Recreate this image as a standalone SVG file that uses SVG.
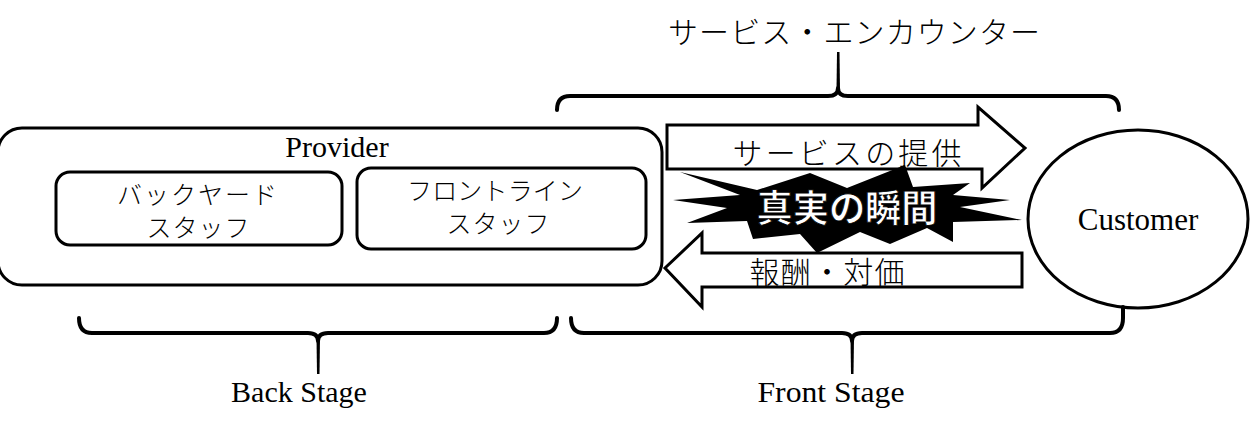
<svg xmlns="http://www.w3.org/2000/svg" width="1254" height="424" viewBox="0 0 1254 424">
<style>
.box{fill:#fff;stroke:#000;stroke-width:3}
.br{fill:none;stroke:#000;stroke-width:4;stroke-linejoin:round;stroke-linecap:round}
.jp{font-family:"Noto Sans CJK JP","Noto Sans CJK SC",sans-serif;font-weight:300;fill:#000}
.en{font-family:"Liberation Serif",serif;fill:#000}
</style>
<rect width="1254" height="424" fill="#fff"/>
<g id="brace-top">
<path class="br" d="M557,110 Q557,96 570,96 L828,96 Q838,96 838,88 Q838,96 848,96 L1106,96 Q1119,96 1119,110"/>
<path d="M836.5,90 L837,52 L839.5,52 L840,90 Z" fill="#000"/>
<text class="jp" x="854" y="43" font-size="30" text-anchor="middle" textLength="372" lengthAdjust="spacing">サービス・エンカウンター</text>
</g>
<g id="provider">
<rect class="box" x="-2" y="128" width="664" height="157" rx="24"/>
<text class="en" x="337" y="157" font-size="30" text-anchor="middle">Provider</text>
</g>
<g id="backyard">
<rect class="box" x="56" y="172" width="286" height="73" rx="14"/>
<text class="jp" x="197" y="204" font-size="25" text-anchor="middle" textLength="160" lengthAdjust="spacing">バックヤード</text>
<text class="jp" x="198" y="237" font-size="25" text-anchor="middle" textLength="103" lengthAdjust="spacing">スタッフ</text>
</g>
<g id="frontline">
<rect class="box" x="357" y="168" width="289" height="81" rx="14"/>
<text class="jp" x="495" y="200" font-size="25" text-anchor="middle" textLength="176" lengthAdjust="spacing">フロントライン</text>
<text class="jp" x="498" y="233" font-size="25" text-anchor="middle" textLength="103" lengthAdjust="spacing">スタッフ</text>
</g>
<g id="customer">
<ellipse class="box" cx="1138" cy="219" rx="110" ry="89"/>
<text class="en" x="1138" y="230" font-size="31" text-anchor="middle">Customer</text>
</g>
<g id="connectors">
<g id="arrow-service">
<path class="box" d="M667,125 L978,125 L978,107 L1025,148 L982,188 L982,169 L667,169 Z"/>
<text class="jp" x="847" y="164" font-size="30" text-anchor="middle" textLength="229" lengthAdjust="spacing">サービスの提供</text>
</g>
<g id="arrow-reward">
<path class="box" d="M1022,253 L702,253 L702,233 L665,268 L702,307 L702,287 L1022,287 Z"/>
<text class="jp" x="827" y="283" font-size="30" text-anchor="middle" textLength="155" lengthAdjust="spacing">報酬・対価</text>
</g>
<g id="moment">
<polygon fill="#000" points="673,200 740,195 680,172 757,190 810,173 847,188 905,165 913,187 970,183 953,195 1010,200 960,207 1022,220 953,222 953,242 927,228 890,244 860,232 817,253 800,234 753,239 747,221 687,223 727,208"/>
<text x="847" y="222" font-family="'Noto Sans CJK JP',sans-serif" font-weight="700" font-size="37" fill="#fff" stroke="#000" stroke-width="0.8" text-anchor="middle" textLength="181" lengthAdjust="spacingAndGlyphs">真実の瞬間</text>
</g>
<g id="brace-back">
<path class="br" d="M79,318 Q79,333 92,333 L308,333 Q318,333 318,341 Q318,333 328,333 L544,333 Q557,333 557,318"/>
<path d="M316.5,338 L317,374 L319.5,374 L320,338 Z" fill="#000"/>
</g>
<g id="brace-front">
<path class="br" d="M571,318 Q571,333 584,333 L842,333 Q852,333 852,341 Q852,333 862,333 L1110,333 Q1123,333 1123,318 L1123,307"/>
<path d="M850.5,338 L851,374 L853.5,374 L854,338 Z" fill="#000"/>
</g>
</g>
<text class="en" x="299" y="402" font-size="30" text-anchor="middle">Back Stage</text>
<text class="en" x="831" y="402" font-size="30" text-anchor="middle" textLength="147" lengthAdjust="spacingAndGlyphs">Front Stage</text>
</svg>
